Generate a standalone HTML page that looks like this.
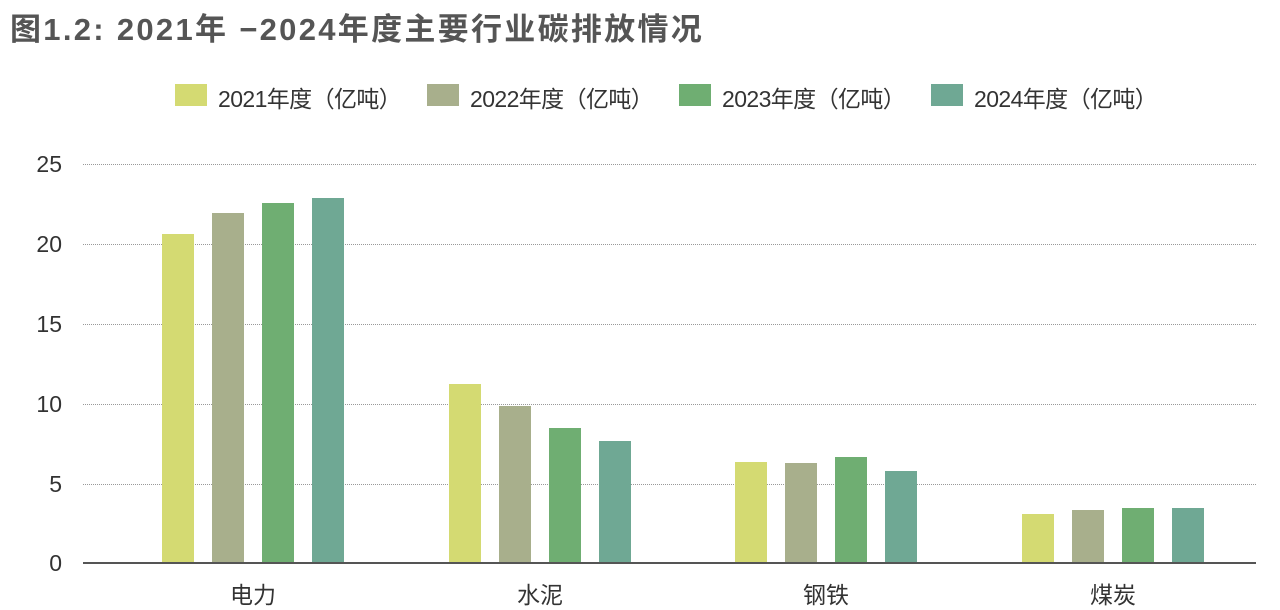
<!DOCTYPE html>
<html><head><meta charset="utf-8"><style>
body{margin:0;width:1280px;height:609px;background:#fff;position:relative;overflow:hidden;font-family:"Liberation Sans","Noto Sans CJK SC",sans-serif;color:#333}
.a{position:absolute}
.g{position:absolute;left:83px;width:1173px;border-top:1px dotted #999;height:0}
.yl{position:absolute;left:0;width:62px;text-align:right;font-size:23px;color:#333}
.b{position:absolute;width:32px}
.lg{position:absolute;top:84px;width:32px;height:22px}
.lt{position:absolute;top:80px;font-size:23px;color:#333;white-space:nowrap;letter-spacing:-0.6px}
.xl{position:absolute;top:576px;font-size:23px;width:100px;text-align:center}
</style></head><body>
<div class="a" style="left:10px;top:4px;font-size:31px;font-weight:bold;color:#555;letter-spacing:2.3px;white-space:nowrap">图1.2: 2021年 −2024年度主要行业碳排放情况</div>
<div class="lg" style="left:175px;background:#d4da72"></div><div class="lt" style="left:218px">2021年度（亿吨）</div>
<div class="lg" style="left:427px;background:#a8af8c"></div><div class="lt" style="left:470px">2022年度（亿吨）</div>
<div class="lg" style="left:679px;background:#6fae72"></div><div class="lt" style="left:722px">2023年度（亿吨）</div>
<div class="lg" style="left:931px;background:#6fa894"></div><div class="lt" style="left:974px">2024年度（亿吨）</div>
<div class="g" style="top:164px"></div><div class="yl" style="top:151px">25</div>
<div class="g" style="top:244px"></div><div class="yl" style="top:231px">20</div>
<div class="g" style="top:324px"></div><div class="yl" style="top:311px">15</div>
<div class="g" style="top:404px"></div><div class="yl" style="top:391px">10</div>
<div class="g" style="top:484px"></div><div class="yl" style="top:471px">5</div>
<div class="yl" style="top:550px">0</div>
<div class="b" style="left:162px;top:234px;height:329px;background:#d4da72"></div>
<div class="b" style="left:212px;top:213px;height:350px;background:#a8af8c"></div>
<div class="b" style="left:262px;top:203px;height:360px;background:#6fae72"></div>
<div class="b" style="left:312px;top:198px;height:365px;background:#6fa894"></div>
<div class="b" style="left:449px;top:384px;height:179px;background:#d4da72"></div>
<div class="b" style="left:499px;top:406px;height:157px;background:#a8af8c"></div>
<div class="b" style="left:549px;top:428px;height:135px;background:#6fae72"></div>
<div class="b" style="left:599px;top:441px;height:122px;background:#6fa894"></div>
<div class="b" style="left:735px;top:462px;height:101px;background:#d4da72"></div>
<div class="b" style="left:785px;top:463px;height:100px;background:#a8af8c"></div>
<div class="b" style="left:835px;top:457px;height:106px;background:#6fae72"></div>
<div class="b" style="left:885px;top:471px;height:92px;background:#6fa894"></div>
<div class="b" style="left:1022px;top:514px;height:49px;background:#d4da72"></div>
<div class="b" style="left:1072px;top:510px;height:53px;background:#a8af8c"></div>
<div class="b" style="left:1122px;top:508px;height:55px;background:#6fae72"></div>
<div class="b" style="left:1172px;top:508px;height:55px;background:#6fa894"></div>
<div class="a" style="left:83px;top:562px;width:1173px;height:2px;background:#555"></div>
<div class="xl" style="left:203px">电力</div>
<div class="xl" style="left:490px">水泥</div>
<div class="xl" style="left:776px">钢铁</div>
<div class="xl" style="left:1063px">煤炭</div>
</body></html>
